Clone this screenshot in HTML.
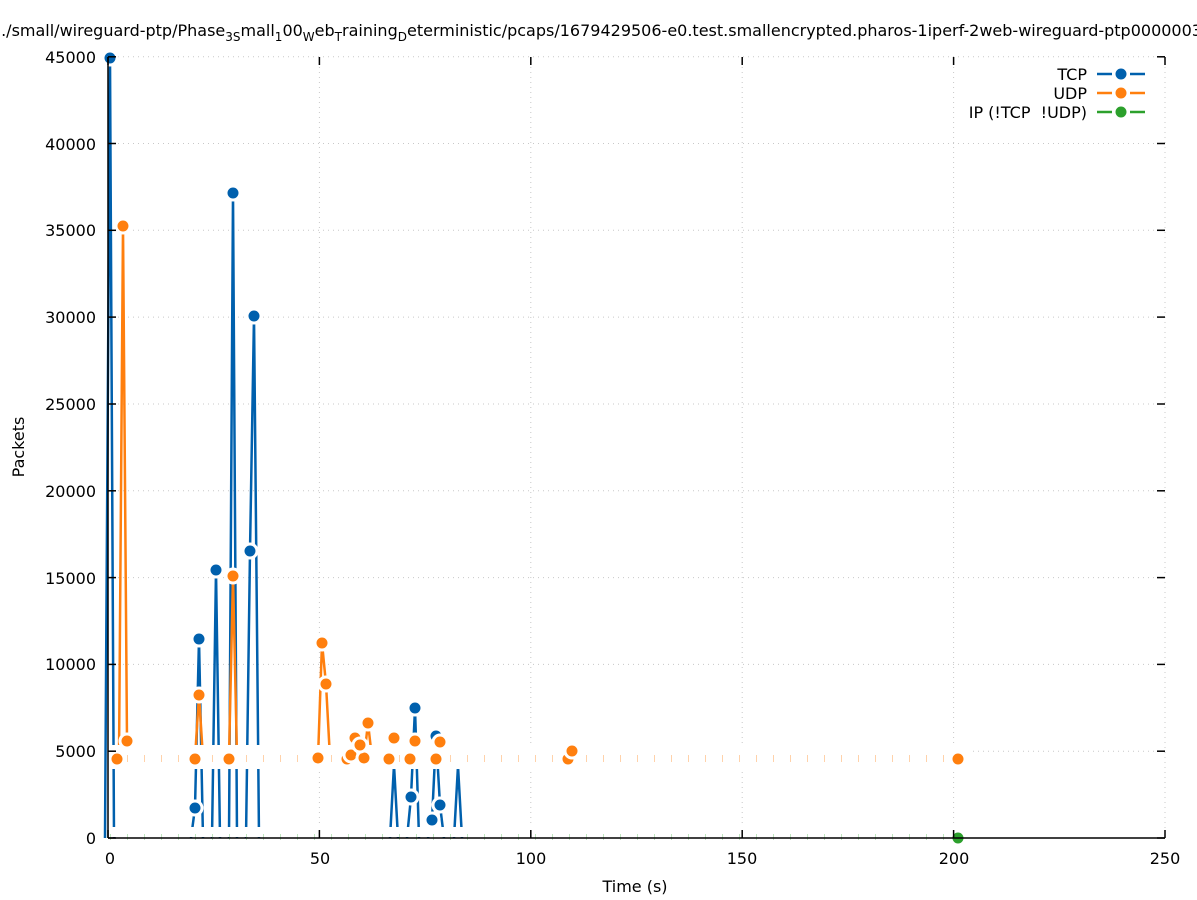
<!DOCTYPE html>
<html><head><meta charset="utf-8"><style>
html,body{margin:0;padding:0;background:#fff;}
svg{display:block;font-family:"DejaVu Sans","Liberation Sans",sans-serif;}
</style></head><body>
<svg id="s" width="1197" height="900" viewBox="0 0 1197 900" xmlns="http://www.w3.org/2000/svg">
<rect width="1197" height="900" fill="#fff"/>
<g id="grid" stroke="#c8c8c8" stroke-width="1" stroke-dasharray="1,4"></g>
<g id="lines" fill="none" stroke-width="2.5" stroke-linejoin="miter"></g>
<rect x="109" y="745" width="860" height="24" fill="#fff"/>
<rect x="109" y="827" width="860" height="10" fill="#fff"/>
<g id="marks"></g>
<g id="pts"></g>
<g id="axes" stroke="#000" stroke-width="1.5"></g>
<g font-size="16" fill="#000">
<text x="-4" y="36" font-size="16">../small/wireguard-ptp/Phase<tspan dy="5" font-size="12">3S</tspan><tspan dy="-5">mall</tspan><tspan dy="5" font-size="12">1</tspan><tspan dy="-5">00</tspan><tspan dy="5" font-size="12">W</tspan><tspan dy="-5">eb</tspan><tspan dy="5" font-size="12">T</tspan><tspan dy="-5">raining</tspan><tspan dy="5" font-size="12">D</tspan><tspan dy="-5">eterministic/pcaps/1679429506-e0.test.smallencrypted.pharos-1iperf-2web-wireguard-ptp0000003.pcap</tspan></text>
<g text-anchor="end">
<text x="96" y="844">0</text><text x="96" y="757">5000</text><text x="96" y="670">10000</text><text x="96" y="584">15000</text><text x="96" y="497">20000</text><text x="96" y="410">25000</text><text x="96" y="323">30000</text><text x="96" y="236">35000</text><text x="96" y="150">40000</text><text x="96" y="63">45000</text>
<text x="1087" y="80">TCP</text><text x="1087" y="99">UDP</text><text x="1087" y="118">IP (!TCP&#160;&#160;!UDP)</text>
</g>
<g text-anchor="middle">
<text x="110" y="864">0</text><text x="320" y="864">50</text><text x="531" y="864">100</text><text x="742" y="864">150</text><text x="954" y="864">200</text><text x="1165" y="864">250</text>
<text x="635" y="892">Time (s)</text>
<text transform="translate(24,447) rotate(-90)">Packets</text>
</g>
</g>
</svg>
<script>
const NS="http://www.w3.org/2000/svg";
function el(p,t,a){const e=document.createElementNS(NS,t);for(const k in a)e.setAttribute(k,a[k]);document.getElementById(p).appendChild(e);return e;}
const B="#0060ad",O="#ff7f0e",G="#2ca02c";
const yt=[838,751.2,664.4,577.6,490.8,404,317.1,230.3,143.5,56.8];
const xt=[108,319.4,530.8,742.2,953.6,1165];
yt.slice(1).forEach(y=>el("grid","line",{x1:108,x2:1165,y1:y,y2:y}));
xt.slice(1).forEach(x=>el("grid","line",{x1:x,x2:x,y1:57,y2:838}));
const tcp=[[[105,838],[110,58],[114,838]],[[191,838],[195,808],[199,639],[203,838]],[[212,838],[216,570],[220,838]],[[229,838],[233,193],[237,838]],[[246,838],[250,551],[254,316],[259,838]],[[390,838],[394,765],[398,838]],[[407,838],[411,797],[415,708],[419,838]],[[428,838],[432,820],[436,736],[440,805],[444,838]],[[454,838],[458,766],[462,838]]];
tcp.forEach(s=>el("lines","polyline",{points:s.map(p=>p.join(",")).join(" "),stroke:B}));
const udp=[[[119,758],[123,226],[127,741],[131,758]],[[195,758],[199,695],[203,758]],[[229,758],[233,576],[237,758]],[[318,758],[322,643],[326,684],[330,758]],[[351,758],[355,738],[360,745],[364,758]],[[364,758],[368,723],[372,758]],[[390,758],[394,738],[398,758]],[[411,758],[415,741],[419,758]],[[436,758],[440,742],[444,758]],[[568,758],[572,751],[576,758]]];
udp.forEach(s=>el("lines","polyline",{points:s.map(p=>p.join(",")).join(" "),stroke:O}));
for(let x=110;x<958;x+=17){
 el("marks","rect",{x:x,y:755,width:1,height:7,fill:"#ffd2aa"});
 el("marks","rect",{x:x,y:834,width:1,height:6,fill:"#bfe5bf"});
}
function pt(x,y,c){el("pts","circle",{cx:x,cy:y,r:7,fill:c,stroke:"#fff","stroke-width":3});}
[[117,759],[195,759],[229,759],[318,758],[347,759],[351,755],[364,758],[389,759],[410,759],[436,759],[568,759]].forEach(p=>pt(p[0],p[1],O));
[[110,58],[195,808],[199,639],[216,570],[233,193],[250,551],[254,316],[411,797],[415,708],[432,820],[436,736],[440,805]].forEach(p=>pt(p[0],p[1],B));
[[123,226],[127,741],[199,695],[233,576],[322,643],[326,684],[355,738],[360,745],[368,723],[394,738],[415,741],[440,742],[572,751],[958,759]].forEach(p=>pt(p[0],p[1],O));
pt(958,838,G);
el("axes","line",{x1:108,y1:57,x2:108,y2:838});
el("axes","line",{x1:108,y1:838,x2:1165,y2:838});
yt.forEach(y=>{el("axes","line",{x1:108,x2:116,y1:y,y2:y});el("axes","line",{x1:1157,x2:1165,y1:y,y2:y});});
xt.forEach(x=>{el("axes","line",{x1:x,x2:x,y1:838,y2:830});el("axes","line",{x1:x,x2:x,y1:57,y2:65});});
[[74,B],[93,O],[112,G]].forEach(([y,c])=>{el("pts","line",{x1:1097,x2:1112,y1:y,y2:y,stroke:c,"stroke-width":2.5});el("pts","line",{x1:1130,x2:1145,y1:y,y2:y,stroke:c,"stroke-width":2.5});pt(1121,y,c);});
</script>
</body></html>
